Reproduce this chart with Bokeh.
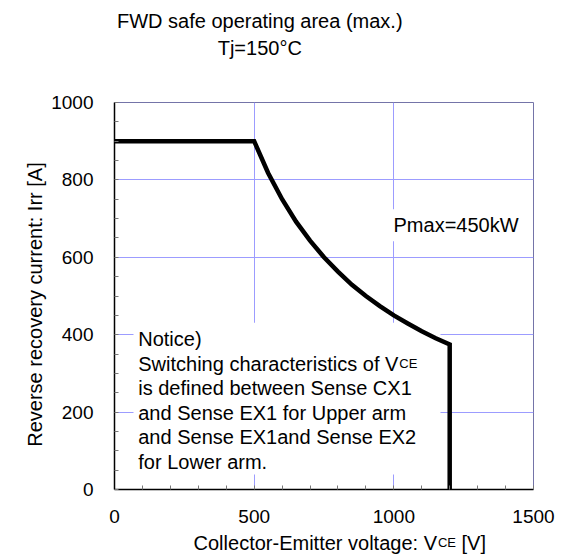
import math
from bokeh.plotting import figure
from bokeh.models import Range1d, Label, BoxAnnotation, FixedTicker
from bokeh.embed import file_html
from bokeh.resources import INLINE

# ---- data ----
voltage = [0, 500, 550, 600, 650, 700, 750, 800, 850, 900, 950, 1000, 1050, 1100, 1150, 1200, 1200]
current = [900, 900, 818, 750, 692, 643, 600, 563, 529, 500, 474, 450, 429, 409, 391, 375, 0]
x_ticks = [0, 500, 1000, 1500]
y_ticks = [0, 200, 400, 600, 800, 1000]
x_minor = [0, 100, 200, 300, 400, 500, 600, 700, 800, 900, 1000, 1100, 1200, 1300, 1400, 1500]
y_minor = [0, 50, 100, 150, 200, 250, 300, 350, 400, 450, 500, 550, 600, 650, 700, 750, 800, 850, 900, 950, 1000]
title_lines = ["FWD safe operating area (max.)", "Tj=150°C"]
x_label_parts = ["Collector-Emitter voltage: V", "CE", "[V]"]
y_label = "Reverse recovery current: Irr [A]"
pmax_text = "Pmax=450kW"
notice_lines = ["Notice)", "Switching characteristics of V", "is defined between Sense CX1",
                "and Sense EX1 for Upper arm", "and Sense EX1and Sense EX2", "for Lower arm."]
sub_text = "CE"

FONT = "Liberation Sans"
FS = 20
SUB = 13
grid_col = "#9c9cff"

p = figure(width=555, height=555, output_backend="svg", toolbar_location=None,
           x_range=Range1d(0, 1500), y_range=Range1d(0, 1000),
           min_border_left=114, min_border_right=22, min_border_top=102, min_border_bottom=66)
p.background_fill_color = "white"
p.border_fill_color = "white"
p.outline_line_color = "#7474a8"
p.outline_line_width = 1

p.xaxis.ticker = FixedTicker(ticks=x_ticks, minor_ticks=x_minor)
p.yaxis.ticker = FixedTicker(ticks=y_ticks, minor_ticks=y_minor)
for ax in (p.xaxis, p.yaxis):
    ax.axis_line_color = "black"
    ax.axis_line_width = 1.5
    ax.major_tick_line_color = None
    ax.minor_tick_in = 4
    ax.minor_tick_out = 0
    ax.minor_tick_line_color = "#777777"
    ax.major_label_text_font = FONT
    ax.major_label_text_font_size = "19px"
    ax.major_label_text_color = "black"
p.xaxis.major_label_standoff = 14
p.yaxis.major_label_standoff = 15

p.xgrid.grid_line_color = grid_col
p.ygrid.grid_line_color = grid_col
p.xgrid.level = "image"
p.ygrid.level = "image"

# white box behind the notice (covers grid, below curve)
notice_box = BoxAnnotation(left=68, right=1167, top=431, bottom=39,
                           fill_color="white", fill_alpha=1.0, line_color=None, level="underlay")
p.add_layout(notice_box)

p.line(voltage, current, line_color="black", line_width=4.5, line_join="miter")

def lab(text, x, y, size=FS, align="left", xoff=0, angle=0, place="center", **kw):
    L = Label(x=x, y=y, text=text, text_font=FONT, text_font_size=f"{size}px",
              text_align=align, text_baseline="alphabetic", x_offset=xoff, angle=angle,
              text_color="black", **kw)
    p.add_layout(L, place)
    return L

# title (outside frame -> side panel so it is not clipped)
lab(title_lines[0], 520, 1211, align="center", place="above")
lab(title_lines[1], 520, 1141, align="center", place="above")

# Pmax
lab(pmax_text, 981, 683, background_fill_color="white", background_fill_alpha=1.0, padding=5)

# notice
ny = [390, 325, 263, 198, 136, 71]
for t, y in zip(notice_lines, ny):
    lab(t, 85, y)
lab(sub_text, 85, ny[1], size=SUB, xoff=13.004 * FS + 1)

# x axis label pieces (small pieces parked in the roomy top panel; drawn at data position)
w_main = 12.17 * FS
lab(x_label_parts[0], 283, -138, place="below")
lab(x_label_parts[1], 283, -138, size=SUB, xoff=w_main + 1, place="above")
lab(x_label_parts[2], 283, -138, xoff=w_main + 1 + 1.389 * SUB + 0.278 * FS, place="above")

# y axis label
lab(y_label, -283, 478, align="center", angle=math.pi / 2, place="left")

open("out.html", "w").write(file_html(p, INLINE))
